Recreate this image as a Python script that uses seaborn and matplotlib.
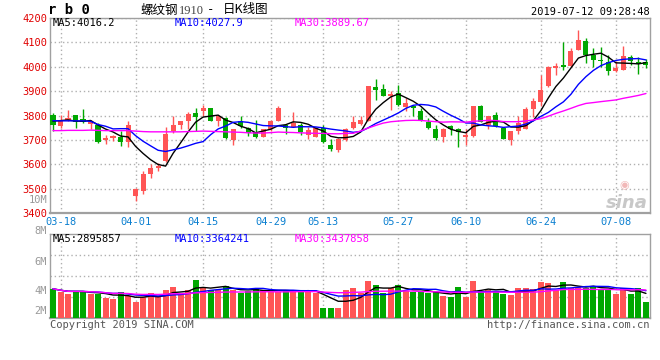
import matplotlib
matplotlib.use("Agg")
import matplotlib.pyplot as plt
import seaborn as sns
import pandas as pd

sns.set_theme(style="white")
plt.rcParams["font.family"] = ["DejaVu Sans Mono", "Noto Sans CJK SC"]

# --- data (rb1910 daily K) ---
open_ = [3804, 3756, 3782, 3800, 3786, 3766, 3763, 3700, 3708, 3711,
         3691, 3470, 3490, 3561, 3586, 3613, 3736, 3760, 3777, 3811,
         3818, 3831, 3777, 3790, 3698, 3779, 3749, 3733, 3711, 3743,
         3779, 3763, 3753, 3759, 3722, 3713, 3749, 3681, 3657, 3698,
         3747, 3766, 3779, 3916, 3910, 3879, 3893, 3834, 3838, 3820,
         3774, 3743, 3713, 3756, 3743, 3713, 3714, 3837, 3763, 3801,
         3749, 3699, 3738, 3745, 3827, 3856, 3919, 3996, 4009, 4002,
         4070, 4104, 4050, 4029, 4020, 3981, 3988, 4040, 4018, 4018]
high = [3811, 3804, 3824, 3804, 3827, 3782, 3770, 3719, 3722, 3736,
        3777, 3504, 3572, 3599, 3606, 3753, 3800, 3779, 3815, 3831,
        3845, 3831, 3804, 3793, 3745, 3797, 3752, 3783, 3743, 3783,
        3837, 3766, 3815, 3770, 3752, 3753, 3763, 3702, 3708, 3749,
        3800, 3800, 3923, 3951, 3931, 3902, 3927, 3872, 3842, 3831,
        3790, 3763, 3749, 3763, 3749, 3743, 3837, 3845, 3800, 3815,
        3752, 3738, 3797, 3834, 3872, 3968, 4002, 4015, 4100, 4077,
        4152, 4118, 4077, 4080, 4050, 4022, 4086, 4050, 4039, 4032]
low = [3736, 3749, 3777, 3749, 3770, 3743, 3688, 3684, 3695, 3674,
       3670, 3449, 3477, 3542, 3572, 3610, 3729, 3743, 3743, 3736,
       3797, 3777, 3756, 3703, 3681, 3749, 3715, 3708, 3711, 3738,
       3779, 3726, 3753, 3722, 3702, 3713, 3688, 3654, 3650, 3695,
       3743, 3760, 3777, 3865, 3879, 3824, 3838, 3818, 3797, 3777,
       3743, 3698, 3691, 3722, 3670, 3678, 3711, 3774, 3745, 3753,
       3702, 3681, 3725, 3745, 3793, 3838, 3916, 3968, 3988, 3999,
       4067, 4015, 3998, 3998, 3965, 3979, 3985, 4009, 3972, 3995]
close = [3760, 3783, 3790, 3774, 3774, 3777, 3691, 3706, 3714, 3691,
         3759, 3497, 3561, 3586, 3592, 3726, 3759, 3777, 3808, 3793,
         3831, 3779, 3797, 3706, 3743, 3756, 3729, 3711, 3743, 3779,
         3829, 3749, 3770, 3732, 3740, 3749, 3691, 3661, 3702, 3743,
         3773, 3783, 3923, 3906, 3879, 3890, 3842, 3850, 3831, 3777,
         3747, 3706, 3745, 3743, 3733, 3719, 3837, 3774, 3797, 3756,
         3702, 3736, 3770, 3827, 3861, 3906, 3998, 4003, 4000, 4066,
         4111, 4050, 4029, 4022, 3984, 3995, 4045, 4022, 4013, 4009]
# volume in millions of lots
volume = [3.54, 3.21, 2.97, 3.21, 3.21, 2.97, 2.97, 2.48, 2.32, 3.13,
          2.68, 1.99, 2.52, 3.01, 2.68, 3.41, 3.82, 2.89, 3.41, 4.63,
          3.82, 3.41, 3.41, 3.94, 3.41, 3.01, 3.29, 3.62, 3.41, 3.21,
          3.21, 3.29, 3.37, 3.37, 3.37, 3.01, 1.26, 1.26, 1.26, 3.37,
          3.62, 3.01, 4.51, 4.02, 3.01, 3.62, 4.02, 3.29, 3.13, 3.13,
          3.01, 3.13, 2.68, 2.60, 3.74, 2.60, 4.51, 3.29, 3.41, 3.29,
          2.89, 2.80, 3.62, 3.62, 3.54, 4.43, 4.19, 3.37, 4.43, 3.62,
          3.74, 3.62, 3.90, 3.54, 3.41, 2.89, 3.62, 2.89, 3.62, 1.91]

# MA values at the left edge (their window reaches before the first candle),
# read off the lines themselves
ma5_head = [3777, 3779, 3782, 3777]
ma10_head = [3779, 3778, 3778, 3778, 3778, 3776, 3763, 3756, 3745]
ma30_head = [3738, 3738, 3739, 3739, 3739, 3740, 3739, 3738, 3738, 3738,
             3738, 3736, 3734, 3733, 3733, 3733, 3733, 3733, 3734, 3735,
             3736, 3735, 3734, 3733, 3732, 3731, 3729, 3728, 3728]

tick_labels = ["03-18", "04-01", "04-15", "04-29", "05-13",
               "05-27", "06-10", "06-24", "07-08"]
tick_index = [1, 11, 20, 29, 36, 46, 55, 65, 75]

price_ticks = [3400, 3500, 3600, 3700, 3800, 3900, 4000, 4100, 4200]

RED = "#ff5555"
GREEN = "#00a800"
GRID = "#b0b0b0"
FRAME = "#a0a0a0"

df = pd.DataFrame({"open": open_, "high": high, "low": low,
                   "close": close, "vol": volume})
df["i"] = range(len(df))
df["col"] = [RED if c >= o else GREEN for o, c in zip(df.open, df.close)]
for n, head in ((5, ma5_head), (10, ma10_head), (30, ma30_head)):
    df[f"ma{n}"] = df.close.rolling(n).mean()
    df.loc[: len(head) - 1, f"ma{n}"] = head
    df[f"vma{n}"] = df.vol.rolling(n, min_periods=1).mean()

W, H = 660, 360
fig = plt.figure(figsize=(6.6, 3.6), dpi=100)
fig.patch.set_facecolor("white")
ax = fig.add_axes([50 / W, 1 - 213 / H, 600 / W, 195 / H])
axv = fig.add_axes([50 / W, 1 - 318 / H, 600 / W, 84 / H])

# --- candles ---
body = (df.close - df.open).abs().clip(lower=2)
bottom = df[["open", "close"]].min(axis=1)
ax.vlines(df.i, df.low, df.high, colors=df.col, lw=1, zorder=3)
ax.bar(df.i, body, bottom=bottom, width=0.68, color=df.col, lw=0, zorder=4)

for col, c in (("ma5", "black"), ("ma10", "#0000ff"), ("ma30", "#ff00ff")):
    sns.lineplot(data=df, x="i", y=col, color=c, lw=1, ax=ax, zorder=5)

# --- volume ---
axv.bar(df.i, df.vol, width=0.8, color=df.col, lw=0, zorder=3)
for col, c in (("vma5", "black"), ("vma10", "#0000ff"), ("vma30", "#ff00ff")):
    sns.lineplot(data=df, x="i", y=col, color=c, lw=1, ax=axv, zorder=5)

xlim = (-0.4, 79.54)
for a in (ax, axv):
    a.set_xlim(*xlim)
    a.set_xlabel("")
    a.set_ylabel("")
    a.set_facecolor("white")
    for s in a.spines.values():
        s.set_color(FRAME)
        s.set_linewidth(1)
    a.spines["bottom"].set_linewidth(1.6)
    a.set_xticks(tick_index)
    a.grid(True, ls=(0, (1, 2)), color=GRID, lw=1)

ax.set_ylim(3400, 4200)
ax.set_yticks(price_ticks)
ax.set_yticklabels([str(p) for p in price_ticks])
ax.tick_params(axis="y", length=0, pad=2, labelsize=7.5, labelcolor="#e00000")
ax.set_xticklabels(tick_labels)
ax.tick_params(axis="x", length=0, pad=3, labelsize=7.5, labelcolor="#0a7fd0")

axv.set_ylim(0, 10.2)
axv.set_yticks([0, 2.55, 5.1, 7.65])
axv.set_yticklabels([])
axv.set_xticklabels([])
axv.tick_params(length=0)

# --- texts ---
def px(x, y, s, **kw):
    fig.text(x / W, 1 - y / H, s, **kw)

px(48, 10, "r b 0", fontsize=10, fontweight="bold", va="center", color="black")
px(140, 10, "螺纹钢", fontsize=9, va="center", color="black",
   family=["Noto Sans CJK SC"])
px(179, 10.5, "1910", fontsize=9, va="center", color="#444444",
   family=["Liberation Serif"])
px(210.5, 10, "-", fontsize=9, ha="center", va="center", color="black")
px(223, 10, "日K线图", fontsize=9, va="center", color="black",
   family=["Noto Sans CJK SC"])
px(650, 12, "2019-07-12 09:28:48", fontsize=7.5, ha="right", va="center",
   color="black")

px(53, 23, "MA5:4016.2", fontsize=7.5, va="center", color="black")
px(175, 23, "MA10:4027.9", fontsize=7.5, va="center", color="#0000ff")
px(295, 23, "MA30:3889.67", fontsize=7.5, va="center", color="#ff00ff")

px(53, 239, "MA5:2895857", fontsize=7.5, va="center", color="black")
px(175, 239, "MA10:3364241", fontsize=7.5, va="center", color="#0000ff")
px(295, 239, "MA30:3437858", fontsize=7.5, va="center", color="#ff00ff")

for lab, y in (("10M", 200), ("8M", 231), ("6M", 262), ("4M", 291), ("2M", 311)):
    px(47, y, lab, fontsize=7.5, ha="right", va="center", color="#999999")

px(50, 325, "Copyright 2019 SINA.COM", fontsize=7.5, va="center", color="#555555")
px(650, 325, "http://finance.sina.com.cn", fontsize=7.5, ha="right",
   va="center", color="#555555")

# watermark
px(624, 185, "◉", fontsize=8, ha="center", va="center", color="#f2b8b8",
   family=["DejaVu Sans"])
px(648, 203, "sina", fontsize=13, ha="right", va="center", color="#c8c8c8",
   fontweight="bold", style="italic", family=["DejaVu Sans"])

fig.savefig("out.png", dpi=100, facecolor="white")
